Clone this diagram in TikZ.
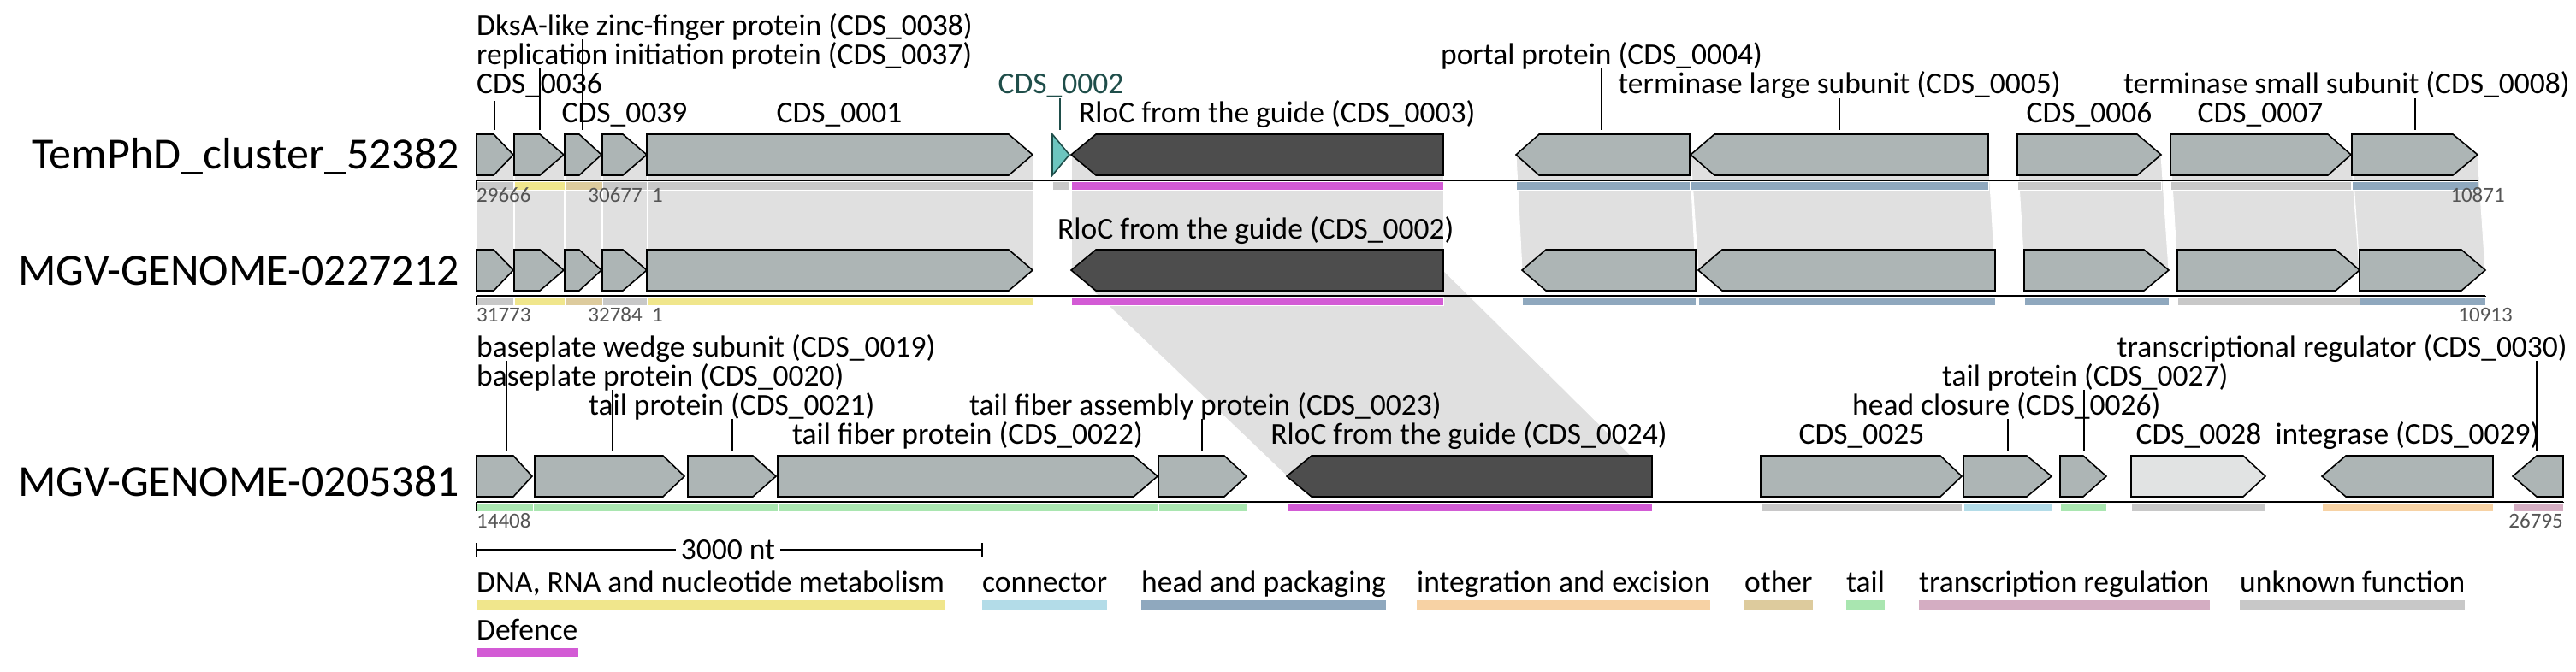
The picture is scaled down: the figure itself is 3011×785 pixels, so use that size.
\documentclass[tikz,border=0pt]{standalone}
\usepackage{fontspec}
\setmainfont{Carlito}
\usetikzlibrary{calc}
\definecolor{genegray}{HTML}{ADB5B5}
\definecolor{rloc}{HTML}{4D4D4D}
\definecolor{lightgene}{HTML}{E1E3E3}
\definecolor{tealfill}{HTML}{6CC5BF}
\definecolor{tealdark}{HTML}{1F4E4A}
\definecolor{linkgray}{HTML}{E0E0E0}
\definecolor{numgray}{HTML}{555555}
\definecolor{unk}{HTML}{C8C8C8}
\definecolor{dna}{HTML}{F0E68C}
\definecolor{conn}{HTML}{B3DCE8}
\definecolor{head}{HTML}{8FA8BE}
\definecolor{integ}{HTML}{F7D2A4}
\definecolor{oth}{HTML}{DDCB9D}
\definecolor{tail}{HTML}{A9E6B0}
\definecolor{trans}{HTML}{D4ADC2}
\definecolor{def}{HTML}{D35BD5}
\tikzset{
  genebox/.style={draw=black, line width=1.6pt, line join=miter, fill=genegray},
  lbl/.style={font=\fontsize{35.5}{36}\selectfont, inner sep=0pt, anchor=base west},
  num/.style={font=\fontsize{25}{25}\selectfont, text=numgray, inner sep=0pt},
  rowlbl/.style={font=\fontsize{52}{52}\selectfont, inner sep=0pt, anchor=base east},
  leader/.style={draw=black, line width=1.2pt},
  axisline/.style={draw=black, line width=2pt},
  linkpoly/.style={fill=linkgray, draw=white, line width=1pt}
}
\newcommand\lnk[6]{\path[linkpoly] (#1,#3) -- (#2,#3) -- (#5,#6) -- (#4,#6) -- cycle;}
\newcommand\fg[5][]{\draw[genebox,#1] (#2,{#4-24}) -- ({#3-#5},{#4-24}) -- (#3,#4) -- ({#3-#5},{#4+24}) -- (#2,{#4+24}) -- cycle;}
\newcommand\rg[5][]{\draw[genebox,#1] (#2,#4) -- ({#2+#5},{#4-24}) -- (#3,{#4-24}) -- (#3,{#4+24}) -- ({#2+#5},{#4+24}) -- cycle;}
\newcommand\cb[4]{\path[fill=#4, draw=white, line width=0.6pt] (#1,#3) rectangle (#2,{#3+10});}
\begin{document}
\begin{tikzpicture}[x=1pt,y=-1pt]
\useasboundingbox[fill=white] (0,0) rectangle (3011,785);

% ---------- comparison links ----------
\lnk{557}{600}{181}{557}{600}{316}
\lnk{601}{659}{181}{601}{659}{316}
\lnk{660}{703}{181}{660}{703}{316}
\lnk{704}{756}{181}{704}{756}{316}
\lnk{756}{1207}{181}{756}{1207}{316}
\lnk{1252}{1687}{181}{1252}{1687}{316}
\lnk{1772}{1975}{181}{1779}{1982}{316}
\lnk{1976}{2324}{181}{1985}{2332}{316}
\lnk{2358}{2526}{181}{2366}{2535}{316}
\lnk{2537}{2748}{181}{2545}{2758}{316}
\lnk{2749}{2896}{181}{2758}{2905}{316}
\lnk{1252}{1687}{316}{1504}{1931}{557}

% ---------- row labels ----------
\node[rowlbl] (r1) at (537,197) {TemPhD\_cluster\_52382};
\node[rowlbl] (r2) at (537,333) {MGV-GENOME-0227212};
\node[rowlbl] (r3) at (537,580) {MGV-GENOME-0205381};

% ---------- axes ----------
\draw[axisline] (557,211) -- (2896,211);
\draw[axisline] (557,211) -- (557,222) (756,211) -- (756,222) (2896,211) -- (2896,222);
\draw[axisline] (557,346) -- (2905,346);
\draw[axisline] (557,346) -- (557,357) (756,346) -- (756,357) (2905,346) -- (2905,357);
\draw[axisline] (557,587) -- (2996,587);
\draw[axisline] (557,587) -- (557,598) (2996,587) -- (2996,598);

% ---------- category bars ----------
\cb{557}{600}{212}{unk}\cb{601}{660}{212}{dna}\cb{660}{704}{212}{oth}\cb{704}{756}{212}{unk}
\cb{756}{1207}{212}{unk}\cb{1230}{1250}{212}{unk}\cb{1252}{1687}{212}{def}
\cb{1772}{1975}{212}{head}\cb{1976}{2324}{212}{head}\cb{2358}{2526}{212}{unk}
\cb{2537}{2748}{212}{unk}\cb{2749}{2896}{212}{head}

\cb{557}{600}{347}{unk}\cb{601}{660}{347}{dna}\cb{660}{704}{347}{oth}\cb{704}{756}{347}{unk}
\cb{756}{1207}{347}{dna}\cb{1252}{1687}{347}{def}\cb{1779}{1982}{347}{head}
\cb{1985}{2332}{347}{head}\cb{2366}{2535}{347}{head}\cb{2545}{2758}{347}{unk}
\cb{2758}{2905}{347}{head}

\cb{557}{623}{588}{tail}\cb{623}{806}{588}{tail}\cb{806}{909}{588}{tail}\cb{909}{1354}{588}{tail}
\cb{1354}{1457}{588}{tail}\cb{1504}{1931}{588}{def}\cb{2058}{2293}{588}{unk}
\cb{2295}{2398}{588}{conn}\cb{2408}{2462}{588}{tail}\cb{2491}{2648}{588}{unk}
\cb{2714}{2914}{588}{integ}\cb{2937}{2996}{588}{trans}

% ---------- genes row 1 ----------
\fg{557}{600}{181}{23}
\fg{601}{659}{181}{28}
\fg{660}{703}{181}{26}
\fg{704}{756}{181}{28}
\fg{756}{1207}{181}{28}
\draw[fill=tealfill, draw=tealdark, line width=1.6pt] (1230,157) -- (1250,181) -- (1230,205) -- cycle;
\rg[fill=rloc]{1252}{1687}{181}{29}
\rg{1772}{1975}{181}{27}
\rg{1976}{2324}{181}{28}
\fg{2358}{2526}{181}{28}
\fg{2537}{2748}{181}{27}
\fg{2749}{2896}{181}{29}

% ---------- genes row 2 ----------
\fg{557}{600}{316}{23}
\fg{601}{659}{316}{28}
\fg{660}{703}{316}{26}
\fg{704}{756}{316}{28}
\fg{756}{1207}{316}{28}
\rg[fill=rloc]{1252}{1687}{316}{29}
\rg{1779}{1982}{316}{28}
\rg{1985}{2332}{316}{28}
\fg{2366}{2535}{316}{29}
\fg{2545}{2758}{316}{28}
\fg{2758}{2905}{316}{28}

% ---------- genes row 3 ----------
\fg{557}{622}{557}{22}
\fg{625}{800}{557}{25}
\fg{804}{907}{557}{27}
\fg{909}{1353}{557}{28}
\fg{1354}{1457}{557}{26}
\rg[fill=rloc]{1504}{1931}{557}{29}
\fg{2058}{2293}{557}{25}
\fg{2295}{2398}{557}{29}
\fg{2408}{2462}{557}{27}
\fg[fill=lightgene]{2491}{2648}{557}{26}
\rg{2714}{2914}{557}{28}
\rg{2937}{2996}{557}{28}

% ---------- coordinates numbers ----------
\node[num, anchor=base west] (n1a) at (557,236) {29666};
\node[num, anchor=base east] (n1b) at (751,236) {30677};
\node[num, anchor=base west] (n1c) at (762,236) {1};
\node[num, anchor=base] (n1d) at (2896,236) {10871};
\node[num, anchor=base west] (n2a) at (557,376) {31773};
\node[num, anchor=base east] (n2b) at (751,376) {32784};
\node[num, anchor=base west] (n2c) at (762,376) {1};
\node[num, anchor=base] (n2d) at (2905,376) {10913};
\node[num, anchor=base west] (n3a) at (557,617) {14408};
\node[num, anchor=base east] (n3b) at (2996,617) {26795};

% ---------- gene labels row 1 ----------
\coordinate (t0036) at (578,152);
\coordinate (t0037) at (631,152);
\coordinate (t0038) at (681,152);
\coordinate (t0002) at (1239,152);
\coordinate (t0004) at (1872,152);
\coordinate (t0005) at (2150,152);
\coordinate (t0008) at (2823,152);
\draw[leader] (681,46) -- (t0038);
\draw[leader] (631,80) -- (t0037);
\draw[leader] (578,118) -- (t0036);
\draw[leader, draw=tealdark] (1239,115) -- (t0002);
\draw[leader] (1872,80) -- (t0004);
\draw[leader] (2150,115) -- (t0005);
\draw[leader] (2823,115) -- (t0008);
\node[lbl] (a0038) at (557,41) {DksA-like zinc-finger protein (CDS\_0038)};
\node[lbl] (a0037) at (557,75) {replication initiation protein (CDS\_0037)};
\node[lbl] (a0036) at (557,109) {CDS\_0036};
\node[lbl, anchor=base] (a0039) at (730,143) {CDS\_0039};
\node[lbl, anchor=base] (a0001) at (981,143) {CDS\_0001};
\node[lbl, anchor=base, text=tealdark] (a0002) at (1240,109) {CDS\_0002};
\node[lbl] (a0003) at (1261,143) {RloC from the guide (CDS\_0003)};
\node[lbl, anchor=base] (a0004) at (1872,75) {portal protein (CDS\_0004)};
\node[lbl, anchor=base] (a0005) at (2150,109) {terminase large subunit (CDS\_0005)};
\node[lbl, anchor=base] (a0006) at (2442,143) {CDS\_0006};
\node[lbl, anchor=base] (a0007) at (2642,143) {CDS\_0007};
\node[lbl, anchor=base east] (a0008) at (3004,109) {terminase small subunit (CDS\_0008)};

% ---------- gene labels row 2 ----------
\node[lbl] (b0002) at (1236,279) {RloC from the guide (CDS\_0002)};

% ---------- gene labels row 3 ----------
\coordinate (t0019) at (592,528);
\coordinate (t0020) at (716,528);
\coordinate (t0021) at (856,528);
\coordinate (t0023) at (1405,528);
\coordinate (t0026) at (2347,528);
\coordinate (t0027) at (2436,528);
\coordinate (t0030) at (2965,528);
\draw[leader] (592,422) -- (t0019);
\draw[leader] (716,456) -- (t0020);
\draw[leader] (856,490) -- (t0021);
\draw[leader] (1405,490) -- (t0023);
\draw[leader] (2347,490) -- (t0026);
\draw[leader] (2436,456) -- (t0027);
\draw[leader] (2965,422) -- (t0030);
\node[lbl] (c0019) at (557,417) {baseplate wedge subunit (CDS\_0019)};
\node[lbl] (c0020) at (557,451) {baseplate protein (CDS\_0020)};
\node[lbl] (c0021) at (688,485) {tail protein (CDS\_0021)};
\node[lbl, anchor=base] (c0022) at (1131,519) {tail fiber protein (CDS\_0022)};
\node[lbl] (c0023) at (1133,485) {tail fiber assembly protein (CDS\_0023)};
\node[lbl, anchor=base] (c0024) at (1717,519) {RloC from the guide (CDS\_0024)};
\node[lbl, anchor=base east] (c0030) at (3001,417) {transcriptional regulator (CDS\_0030)};
\node[lbl] (c0027) at (2270,451) {tail protein (CDS\_0027)};
\node[lbl] (c0026) at (2165,485) {head closure (CDS\_0026)};
\node[lbl, anchor=base] (c0025) at (2176,519) {CDS\_0025};
\node[lbl, anchor=base] (c0028) at (2570,519) {CDS\_0028};
\node[lbl, anchor=base] (c0029) at (2814,519) {integrase (CDS\_0029)};

% ---------- scale bar ----------
\coordinate (sb1) at (557,643);
\coordinate (sb2) at (1148,643);
\draw[line width=3pt] (sb1) -- (sb2);
\draw[line width=1.5pt] (557,635) -- (557,651) (1148,635) -- (1148,651);
\node[font=\fontsize{35.5}{36}\selectfont, fill=white, inner sep=6pt, anchor=base] (sbt) at (851,654) {3000 nt};

% ---------- legend ----------
\node[lbl] (lg1) at (557,692) {DNA, RNA and nucleotide metabolism};
\node[lbl] (lg2) at (1148,692) {connector};
\node[lbl] (lg3) at (1334,692) {head and packaging};
\node[lbl] (lg4) at (1656,692) {integration and excision};
\node[lbl] (lg5) at (2039,692) {other};
\node[lbl] (lg6) at (2158,692) {tail};
\node[lbl] (lg7) at (2243,692) {transcription regulation};
\node[lbl] (lg8) at (2618,692) {unknown function};
\node[lbl] (lg9) at (557,748) {Defence};
\foreach \n/\c in {lg1/dna,lg2/conn,lg3/head,lg4/integ,lg5/oth,lg6/tail,lg7/trans,lg8/unk,lg9/def}
  \fill[\c] ($(\n.base west)+(0,10)$) rectangle ($(\n.base east)+(0,21)$);
\end{tikzpicture}
\end{document}
